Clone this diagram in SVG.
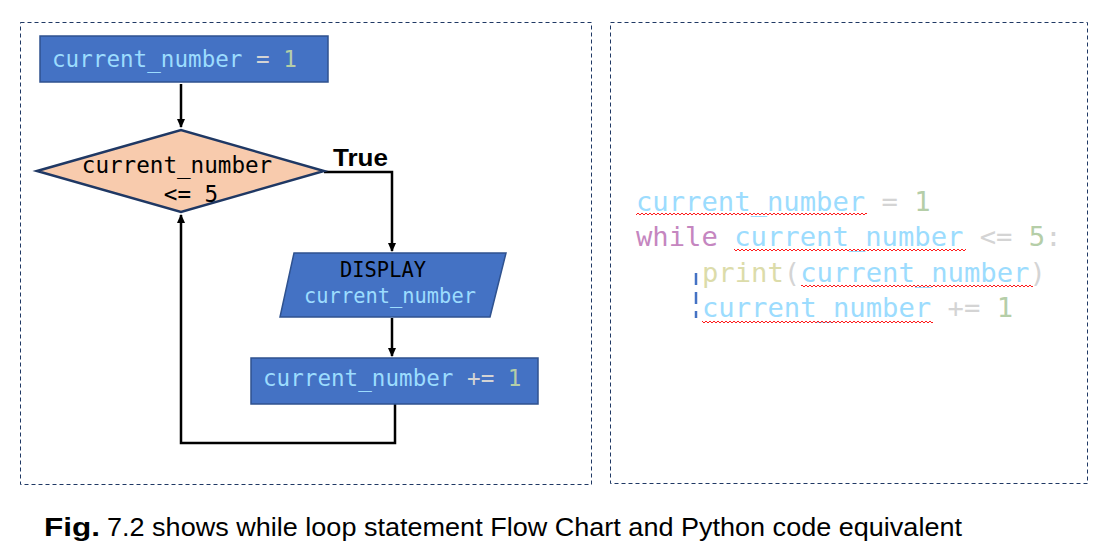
<svg xmlns="http://www.w3.org/2000/svg" width="1097" height="552" viewBox="0 0 1097 552">
<style>
.panel{fill:none;stroke:#1F3864;stroke-width:1;stroke-dasharray:4 3}
.box{fill:#4472C4;stroke:#2F528F;stroke-width:1.5}
.dia{fill:#F8CBAD;stroke:#1F3864;stroke-width:2.5}
.conn{fill:none;stroke:#000;stroke-width:2.5}
.mono{font-family:"DejaVu Sans Mono","Liberation Mono",monospace;white-space:pre}
.fc{font-size:22.6px}
.fs{font-size:20.4px}
.code{font-size:27.2px}
.v{fill:#9CDCFE}.op{fill:#D4D4D4}.n{fill:#B5CEA8}.k{fill:#C586C0}.f{fill:#DCDCAA}.b{fill:#000}
.sq{fill:url(#squig)}
.cap{font-family:"Liberation Sans",Arial,sans-serif;font-size:25px;fill:#000}
</style>
<defs>
<marker id="ah" markerWidth="10" markerHeight="10" refX="8" refY="5" orient="auto" markerUnits="userSpaceOnUse">
<path d="M0,1 L9,5 L0,9 Z" fill="#000"/>
</marker>
<pattern id="squig" width="4" height="4" patternUnits="userSpaceOnUse">
<path d="M0,3 L2,1 L4,3" fill="none" stroke="#FF0000" stroke-width="0.9"/>
</pattern>
</defs>
<rect x="0" y="0" width="1097" height="552" fill="#fff"/>
<rect class="panel" x="20.5" y="22.5" width="571" height="462"/>
<rect class="panel" x="610.5" y="22.5" width="477" height="461"/>

<g id="connectors">
<path class="conn" d="M181,84 V127" marker-end="url(#ah)"/>
<path class="conn" d="M324,172 H392 V251" marker-end="url(#ah)"/>
<path class="conn" d="M392,318 V356" marker-end="url(#ah)"/>
<path class="conn" d="M395,404 V443 H181 V215" marker-end="url(#ah)"/>
<text x="333" y="166" font-family="Liberation Sans,Arial,sans-serif" font-weight="bold" font-size="24.5" fill="#000" textLength="55" lengthAdjust="spacingAndGlyphs">True</text>
</g>

<g id="init">
<rect class="box" x="40" y="36" width="288" height="46"/>
<text class="mono fc" x="52" y="67"><tspan class="v">current_number</tspan><tspan class="op"> = </tspan><tspan class="n">1</tspan></text>
</g>

<g id="cond">
<polygon class="dia" points="37,171 181,130 324,171 181,212"/>
<text class="mono fc b" x="177" y="173" text-anchor="middle">current_number</text>
<text class="mono fc b" x="191" y="202" text-anchor="middle">&lt;= 5</text>
</g>

<g id="display">
<polygon class="box" points="294,253 506,253 490,317 280,317"/>
<text class="mono fs b" x="383" y="277" text-anchor="middle">DISPLAY</text>
<text class="mono fs v" x="390" y="303" text-anchor="middle">current_number</text>
</g>

<g id="incr">
<rect class="box" x="251" y="358" width="287" height="46"/>
<text class="mono fc" x="263" y="386"><tspan class="v">current_number</tspan><tspan class="op"> += </tspan><tspan class="n">1</tspan></text>
</g>

<g id="code">
<text class="mono code" x="636" y="211"><tspan class="v">current_number</tspan><tspan class="op"> = </tspan><tspan class="n">1</tspan></text>
<text class="mono code" x="636" y="246"><tspan class="k">while</tspan><tspan class="op"> </tspan><tspan class="v">current_number</tspan><tspan class="op"> &lt;= </tspan><tspan class="n">5</tspan><tspan class="op">:</tspan></text>
<text class="mono code" x="702" y="282"><tspan class="f">print</tspan><tspan class="op">(</tspan><tspan class="v">current_number</tspan><tspan class="op">)</tspan></text>
<text class="mono code" x="702" y="317"><tspan class="v">current_number</tspan><tspan class="op"> += </tspan><tspan class="n">1</tspan></text>
<rect class="sq" x="636" y="213" width="231" height="4"/>
<rect class="sq" x="734" y="248" width="232" height="4"/>
<rect class="sq" x="801" y="284" width="232" height="4"/>
<rect class="sq" x="702" y="319" width="231" height="4"/>
<line x1="696" y1="273" x2="696" y2="318" stroke="#4472C4" stroke-width="2.5" stroke-dasharray="12 7"/>
</g>

<g id="caption">
<text class="cap" x="44" y="536" font-weight="bold" textLength="56" lengthAdjust="spacingAndGlyphs">Fig.</text>
<text class="cap" x="107" y="536" textLength="855" lengthAdjust="spacingAndGlyphs">7.2 shows while loop statement Flow Chart and Python code equivalent</text>
</g>
</svg>
